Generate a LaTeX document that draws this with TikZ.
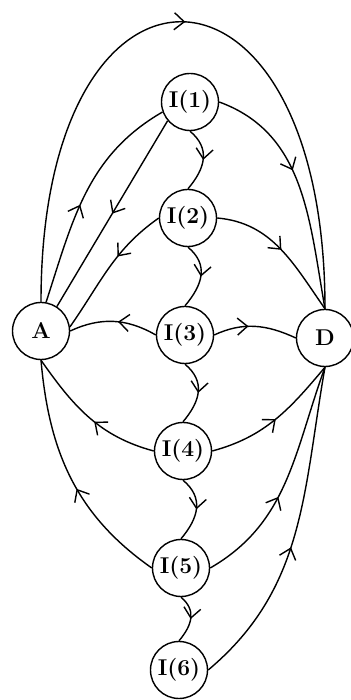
\documentclass[tikz,border=0pt]{standalone}
\usetikzlibrary{arrows.meta,decorations.markings}

\begin{document}
\begin{tikzpicture}[
    state/.style={circle, draw=black, line width=0.8pt, minimum size=1.14cm, inner sep=0pt, font=\fontsize{13}{15}\selectfont\bfseries},
    flow/.style={line width=0.8pt, postaction={decorate},
        decoration={markings, mark=at position #1 with {\arrow{Straight Barb[length=2mm,width=3.4mm,line width=0.8pt]}}}},
    flow/.default=0.5
]
\useasboundingbox (0,0) rectangle (7,14);

% Nodes
\node[state] (A) at (0.82,7.38) {A};
\node[state] (D) at (6.50,7.24) {D};
\node[state] (I1) at (3.80,11.96) {I(1)};
\node[state] (I2) at (3.76,9.64) {I(2)};
\node[state] (I3) at (3.70,7.30) {I(3)};
\node[state] (I4) at (3.66,4.98) {I(4)};
\node[state] (I5) at (3.62,2.64) {I(5)};
\node[state] (I6) at (3.58,0.60) {I(6)};

% Outer arc
\draw[flow] (A.north) to[out=90,in=90,looseness=3.4] (D.north);

% Chain down the middle
\draw[flow] (I1.south) to[out=-40,in=50,looseness=1.2] (I2.north);
\draw[flow] (I2.south) to[out=-40,in=50,looseness=1.2] (I3.north);
\draw[flow] (I3.south) to[out=-40,in=50,looseness=1.2] (I4.north);
\draw[flow] (I4.south) to[out=-40,in=50,looseness=1.2] (I5.north);
\draw[flow] (I5.south) to[out=-40,in=50,looseness=1.2] (I6.north);

% Left side
\draw[flow=0.45] (A.80) to[out=72,in=210] (I1.200);
\draw[flow] (I1.220) -- (A.57);
\draw[flow=0.4] (I2.west) to[out=215,in=55] (A.8);
\draw[flow=0.45] (I3.west) to[out=150,in=25] (A.east);
\draw[flow=0.45] (I4.west) to[out=165,in=-55] (A.south);
\draw[flow=0.45] (I5.west) to[out=145,in=-85] (A.south);

% Right side
\draw[flow=0.42] (I1.east) to[out=-20,in=100] (D.north);
\draw[flow] (I2.east) to[out=-5,in=125] (D.north);
\draw[flow=0.42] (I3.east) to[out=25,in=155] (D.west);
\draw[flow] (I4.east) to[out=15,in=-130] (D.south);
\draw[flow=0.42] (I5.east) to[out=30,in=-110] (D.south);
\draw[flow=0.45] (I6.east) to[out=40,in=-100] (D.south);

\end{tikzpicture}
\end{document}
